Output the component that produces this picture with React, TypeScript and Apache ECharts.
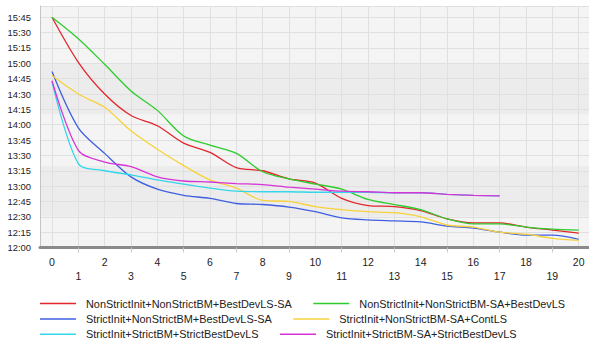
import React, { useEffect, useRef } from "react";
import * as echarts from "echarts";

// x categories (iterations)
const xCats = ["0","1","2","3","4","5","6","7","8","9","10","11","12","13","14","15","16","17","18","19","20"];

// y values: minutes after 12:00
const yMin = 0;
const yMax = 236;
const yStep = 15;

const seriesNames = [
  "NonStrictInit+NonStrictBM+BestDevLS-SA",
  "NonStrictInit+NonStrictBM-SA+BestDevLS",
  "StrictInit+NonStrictBM+BestDevLS-SA",
  "StrictInit+NonStrictBM-SA+ContLS",
  "StrictInit+StrictBM+StrictBestDevLS",
  "StrictInit+StrictBM-SA+StrictBestDevLS",
];

const redVals = [225, 181, 150, 129, 119, 102, 93, 78, 75, 67, 63, 48, 41, 40, 36, 28, 24, 24, 20, 17, 14];
const greenVals = [225, 204, 179, 153, 134, 109, 100, 92, 74, 67, 62, 57, 47, 42, 37, 28, 23, 23, 20, 18, 17];
const blueVals = [172, 117, 92, 69, 57, 51, 48, 43, 42, 39.5, 35, 29, 27, 26, 25, 21, 19, 15, 12, 12, 8];
const yellowVals = [168, 150, 137, 114, 96, 80, 66, 58, 46, 45, 40, 37, 35, 34, 30, 22, 20, 15, 13, 9, 7];
const cyanVals = [162, 82, 75, 71, 66, 62, 58, 55, 54.5, 54.5, 54, 54, 54, 53.5, 53.5, 52, 51, 50.5];
const magentaVals = [163, 95, 83.5, 79, 69, 65, 64, 62.5, 61.5, 59, 57, 55, 54.5, 53.5, 53.5, 52, 51, 50.5];

const seriesValues = [redVals, greenVals, blueVals, yellowVals, cyanVals, magentaVals];
const seriesColors = ["#e3262b", "#2ecc2e", "#3f5fe0", "#f7d23c", "#33d6ea", "#d633d6"];

// background bands (minutes after 12:00)
const lightBands = [[0, 30], [80, 130], [180, 236]];
const darkBands = [[30, 80], [130, 180]];

const fmtTime = (v: number) => {
  if (Math.abs(v % yStep) > 1e-6) return "";
  const h = 12 + Math.floor(v / 60);
  const m = Math.round(v % 60);
  return `${h}:${m < 10 ? "0" + m : m}`;
};

const FONT = "Liberation Sans, Arial, sans-serif";

export default function App() {
  const ref = useRef<HTMLDivElement>(null);
  useEffect(() => {
    if (!ref.current) return;
    const chart = echarts.init(ref.current, undefined, { renderer: "svg" });
    const gridTop = 6;
    const gridBottom = 91.5;
    const markData: any[] = [
      ...lightBands.map((b) => [{ yAxis: b[0], itemStyle: { color: "#f4f4f4" } }, { yAxis: b[1] }]),
      ...darkBands.map((b) => [{ yAxis: b[0], itemStyle: { color: "#ececec" } }, { yAxis: b[1] }]),
    ];
    const rows = [
      { names: [seriesNames[0], seriesNames[1]], center: 304.8 },
      { names: [seriesNames[2], seriesNames[3]], center: 320.3 },
      { names: [seriesNames[4], seriesNames[5]], center: 335.5 },
    ];
    chart.setOption({
      animation: false,
      textStyle: { fontFamily: FONT },
      grid: [
        { left: 40, right: 0, top: gridTop, bottom: gridBottom, containLabel: false },
        { left: 52, right: 10.3, top: gridTop, bottom: gridBottom, containLabel: false },
      ],
      xAxis: [
        {
          type: "value",
          gridIndex: 0,
          min: 0,
          max: 1,
          offset: 2,
          axisLine: { show: true, lineStyle: { color: "#8a8a8a", width: 3 } },
          axisTick: { show: false },
          axisLabel: { show: false },
          splitLine: { show: false },
        },
        {
          type: "category",
          gridIndex: 1,
          data: xCats,
          boundaryGap: false,
          offset: 4,
          axisLine: { show: false },
          axisTick: {
            show: true,
            interval: (i: number) => i % 2 === 1,
            length: 5,
            lineStyle: { color: "#c8c8c8" },
          },
          axisLabel: {
            interval: 0,
            margin: 3.2,
            fontSize: 10.5,
            lineHeight: 14,
            color: "#222",
            fontFamily: FONT,
            formatter: (v: string, i: number) => (i % 2 === 1 ? "\n" + v : v),
          },
          splitLine: { show: true, interval: 0, lineStyle: { color: "#e0e0e0", width: 1 } },
        },
      ],
      yAxis: [
        {
          type: "value",
          gridIndex: 0,
          min: yMin,
          max: yMax,
          interval: yStep,
          axisLine: { show: true, lineStyle: { color: "#c4c4c4", width: 1 } },
          axisTick: { show: false },
          axisLabel: { formatter: fmtTime, fontSize: 9.4, color: "#222", margin: 9, fontFamily: FONT },
          splitLine: { show: true, lineStyle: { color: "#e0e0e0", width: 1 } },
        },
        {
          type: "value",
          gridIndex: 1,
          min: yMin,
          max: yMax,
          interval: yStep,
          show: false,
          splitLine: { show: false },
        },
      ],
      legend: rows.map((r) => ({
        data: r.names,
        left: 40,
        top: r.center - 6.8,
        padding: 0,
        orient: "horizontal",
        itemWidth: 36,
        itemHeight: 1.4,
        itemGap: 21.5,
        icon: "rect",
        selectedMode: false,
        textStyle: { fontSize: 10.9, color: "#222", fontFamily: FONT, padding: [0, 0, 0, 5] },
      })),
      series: [
        {
          type: "line",
          xAxisIndex: 0,
          yAxisIndex: 0,
          data: [[0, 0]],
          showSymbol: false,
          silent: true,
          lineStyle: { opacity: 0 },
          markArea: { silent: true, z: -1, data: markData },
        },
        ...seriesNames.map((n, k) => ({
          name: n,
          type: "line",
          xAxisIndex: 1,
          yAxisIndex: 1,
          data: seriesValues[k],
          smooth: 0.3,
          showSymbol: false,
          color: seriesColors[k],
          lineStyle: { width: 1.3, color: seriesColors[k] },
        })),
      ],
    });
    return () => chart.dispose();
  }, []);
  return (
    <div
      ref={ref}
      style={{ position: "fixed", left: 0, top: 0, width: 589, height: 339, background: "#fff" }}
    />
  );
}
